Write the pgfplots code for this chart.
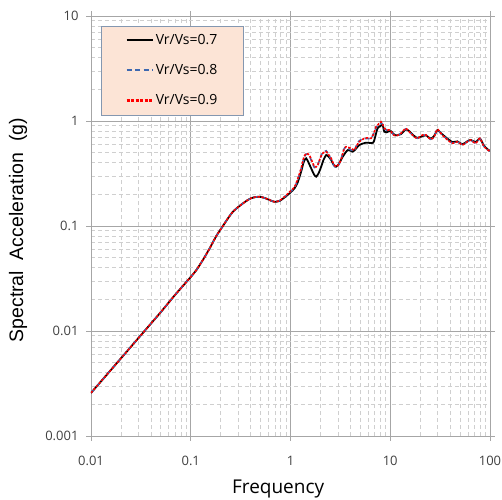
\documentclass[border=0pt]{standalone}
\usepackage{pgfplots}
\pgfplotsset{compat=1.18}
\usepackage{fontspec}
\setmainfont{Open Sans}
\newfontfamily\arialf{Liberation Sans}
\definecolor{legfill}{HTML}{FCE4D6}
\definecolor{legdraw}{HTML}{8497B0}
\definecolor{majgrid}{HTML}{A6A6A6}
\definecolor{mingrid}{HTML}{CFCFCF}
\definecolor{bluel}{HTML}{3D68B0}
\definecolor{redl}{HTML}{FF0000}
\definecolor{txt}{HTML}{404040}

\begin{document}
\begin{tikzpicture}
\path[use as bounding box] (-91bp,-64bp) rectangle (411bp,436bp);
\begin{axis}[
  at={(0,0)}, anchor=south west,
  scale only axis, width=399bp, height=420bp,
  xmode=log, ymode=log,
  xmin=0.01, xmax=100, ymin=0.001, ymax=10,
  xtick={0.01,0.1,1,10,100}, xticklabels={0.01,0.1,1,10,100},
  ytick={0.001,0.01,0.1,1,10}, yticklabels={0.001,0.01,0.1,1,10},
  tick align=outside, major tick length=5bp, minor tick length=0pt,
  tick style={color=majgrid, line width=0.8pt},
  axis line style={color=majgrid, line width=0.8pt},
  grid=both,
  major grid style={color=majgrid, line width=0.8pt},
  minor grid style={color=mingrid, line width=0.7pt, dash pattern=on 4bp off 3bp},
  ticklabel style={font=\fontsize{13bp}{15bp}\selectfont, text=txt},
  xticklabel style={yshift=-12bp},
  yticklabel style={xshift=-4bp},
  xlabel={Frequency},
  ylabel={\arialf Spectral\ \ Acceleration\ \ (g)},
  xlabel style={font=\fontsize{19bp}{22bp}\selectfont, at={(axis description cs:0.469,-0.138)}, anchor=base},
  ylabel style={font=\fontsize{19.5bp}{22bp}\selectfont, at={(axis description cs:-0.183,0.49)}, anchor=center, rotate=0},
  legend cell align=left,
  legend style={at={(axis description cs:0.026,0.977)}, anchor=north west,
    fill=legfill, draw=legdraw,
    font=\fontsize{14bp}{15bp}\selectfont,
    inner xsep=24bp, inner ysep=6.5bp, row sep=14.5bp},
]
\addplot[color=black, line width=1.8pt, solid, smooth, tension=0.4,
  legend image code/.code={\draw[draw=black, line width=2pt, solid] (0bp,0bp) -- (26bp,0bp);}] coordinates {
(0.01,0.00257) (0.02,0.0055) (0.03,0.0086) (0.05,0.0151) (0.07,0.0222) (0.1,0.0327)
(0.114,0.0381) (0.135,0.049) (0.155,0.0614) (0.18,0.080) (0.21,0.100) (0.24,0.121)
(0.265,0.137) (0.3,0.152) (0.333,0.164) (0.37,0.176) (0.404,0.184) (0.45,0.189)
(0.49,0.190) (0.54,0.186) (0.593,0.180) (0.65,0.173) (0.692,0.170) (0.776,0.173)
(0.871,0.187) (0.95,0.200) (1.0,0.209) (1.096,0.228) (1.18,0.26) (1.279,0.33)
(1.36,0.41) (1.436,0.441) (1.52,0.40) (1.61,0.355) (1.72,0.31) (1.81,0.295)
(1.92,0.32) (2.03,0.367) (2.15,0.43) (2.28,0.474) (2.4,0.46) (2.56,0.425)
(2.7,0.385) (2.86,0.367) (3.05,0.39) (3.34,0.457) (3.75,0.529) (4.2,0.511)
(4.5,0.54) (4.9,0.591) (5.7,0.621) (6.73,0.621) (7.1,0.72) (7.46,0.851)
(8.0,0.90) (8.4,0.916) (8.71,0.791) (9.2,0.78) (9.77,0.80) (10.2,0.80)
(10.8,0.75) (11.4,0.73) (12.8,0.75) (14.3,0.83) (15.5,0.80) (17.4,0.72)
(18.8,0.69) (21.1,0.72) (22.8,0.73) (25.4,0.68) (27.5,0.72) (29.7,0.82)
(32.1,0.77) (36.0,0.70) (42.0,0.63) (47.1,0.64) (52.8,0.60) (59.2,0.64)
(64.0,0.66) (71.8,0.63) (79.4,0.68) (87.1,0.58) (97.7,0.525) (100,0.52)
};
\addlegendentry{Vr/Vs=0.7}
\addplot[color=bluel, line width=1.6pt, dash pattern=on 4.5bp off 3.5bp, smooth, tension=0.4,
  legend image code/.code={\draw[draw=bluel, line width=2.2pt, dash pattern=on 5bp off 3.5bp] (0bp,0bp) -- (26bp,0bp);}] coordinates {
(0.01,0.00257) (0.02,0.0055) (0.03,0.0086) (0.05,0.0151) (0.07,0.0222) (0.1,0.0327)
(0.114,0.0381) (0.135,0.049) (0.155,0.0614) (0.18,0.080) (0.21,0.100) (0.24,0.121)
(0.265,0.137) (0.3,0.152) (0.333,0.164) (0.37,0.176) (0.404,0.184) (0.45,0.189)
(0.49,0.190) (0.54,0.186) (0.593,0.180) (0.65,0.173) (0.692,0.170) (0.776,0.174)
(0.871,0.189) (0.95,0.203) (1.0,0.213) (1.096,0.232) (1.18,0.275) (1.279,0.35)
(1.36,0.44) (1.436,0.485) (1.5,0.48) (1.549,0.465) (1.65,0.40) (1.738,0.36)
(1.8,0.36) (1.875,0.38) (2.0,0.45) (2.1,0.50) (2.28,0.52) (2.4,0.48)
(2.56,0.43) (2.7,0.38) (2.86,0.36) (3.0,0.375) (3.21,0.43) (3.4,0.53)
(3.6,0.57) (3.8,0.55) (4.05,0.53) (4.37,0.52) (4.6,0.59) (4.9,0.65)
(5.5,0.68) (6.0,0.68) (6.43,0.68) (6.8,0.76) (7.21,0.87) (7.6,0.92)
(8.09,0.96) (8.4,0.92) (8.71,0.84) (9.4,0.815) (9.77,0.815) (10.2,0.79)
(10.8,0.74) (11.4,0.72) (12.8,0.76) (14.3,0.84) (15.5,0.79) (17.4,0.71)
(18.8,0.685) (21.1,0.73) (22.8,0.735) (25.4,0.67) (27.5,0.71) (29.7,0.83)
(32.1,0.765) (36.0,0.69) (42.0,0.615) (47.1,0.635) (52.8,0.595) (59.2,0.635)
(64.0,0.66) (71.8,0.615) (79.4,0.68) (87.1,0.57) (97.7,0.522) (100,0.515)
};
\addlegendentry{Vr/Vs=0.8}
\addplot[color=redl, line width=1.6pt, dash pattern=on 2.5bp off 1.5bp, smooth, tension=0.4,
  legend image code/.code={\draw[draw=redl, line width=2.2pt, dash pattern=on 3bp off 1.5bp] (0bp,0bp) -- (26bp,0bp);}] coordinates {
(0.01,0.00257) (0.02,0.0055) (0.03,0.0086) (0.05,0.0151) (0.07,0.0222) (0.1,0.0327)
(0.114,0.0381) (0.135,0.049) (0.155,0.0614) (0.18,0.080) (0.21,0.100) (0.24,0.121)
(0.265,0.137) (0.3,0.152) (0.333,0.164) (0.37,0.176) (0.404,0.184) (0.45,0.189)
(0.49,0.190) (0.54,0.186) (0.593,0.180) (0.65,0.173) (0.692,0.170) (0.776,0.174)
(0.871,0.190) (0.95,0.205) (1.0,0.215) (1.096,0.235) (1.18,0.28) (1.279,0.355)
(1.36,0.45) (1.436,0.492) (1.5,0.485) (1.549,0.474) (1.65,0.41) (1.738,0.367)
(1.8,0.365) (1.875,0.381) (2.0,0.45) (2.1,0.492) (2.28,0.511) (2.4,0.48)
(2.56,0.441) (2.7,0.39) (2.86,0.367) (3.0,0.38) (3.21,0.425) (3.4,0.52)
(3.6,0.569) (3.8,0.56) (4.05,0.549) (4.37,0.529) (4.6,0.58) (4.9,0.635)
(5.5,0.684) (6.0,0.69) (6.43,0.684) (6.8,0.75) (7.21,0.883) (7.6,0.93)
(8.09,0.985) (8.4,0.93) (8.71,0.851) (9.4,0.821) (9.77,0.821) (10.2,0.791)
(10.8,0.736) (11.4,0.72) (12.8,0.764) (14.3,0.851) (15.5,0.791) (17.4,0.708)
(18.8,0.684) (21.1,0.736) (22.8,0.736) (25.4,0.67) (27.5,0.708) (29.7,0.834)
(32.1,0.764) (36.0,0.684) (42.0,0.613) (47.1,0.635) (52.8,0.591) (59.2,0.635)
(64.0,0.659) (71.8,0.613) (79.4,0.684) (87.1,0.569) (97.7,0.521) (100,0.515)
};
\addlegendentry{Vr/Vs=0.9}
\end{axis}
\end{tikzpicture}
\end{document}
